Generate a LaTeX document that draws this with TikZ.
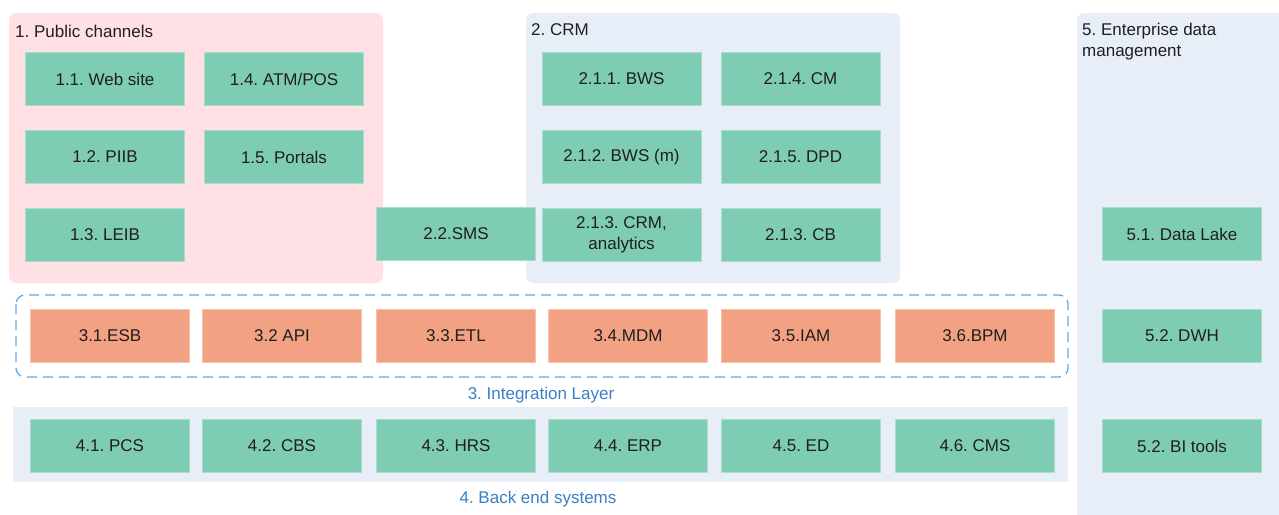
\documentclass[tikz,border=0pt]{standalone}
\usepackage{fontspec}
\setmainfont{Liberation Sans}
\frenchspacing
\usetikzlibrary{positioning}
\definecolor{sysgreen}{HTML}{7FCCB5}
\definecolor{sysedge}{HTML}{A9DDCC}
\definecolor{intorange}{HTML}{F2A283}
\definecolor{intedge}{HTML}{F7C2AC}
\definecolor{panelblue}{HTML}{E8EEF8}
\definecolor{panelpink}{HTML}{FEE0E5}
\definecolor{dashblue}{HTML}{5DA8E3}
\definecolor{capblue}{HTML}{3A7FC4}
\definecolor{inkdark}{HTML}{1F1F1F}
\tikzset{
  sysbox/.style={draw=sysedge, fill=sysgreen, minimum width=159pt, minimum height=53pt,
    inner sep=2pt, line width=0.8pt, font=\fontsize{17}{20.5}\selectfont,
    text=inkdark, align=center},
  intbox/.style={sysbox, draw=intedge, fill=intorange},
  % the group panels
  panel/.style={fill=panelblue, rounded corners=7pt},
  panelhead/.style={anchor=west, inner sep=0pt, font=\fontsize{17}{20.5}\selectfont,
    text=inkdark, align=left},
  layerhead/.style={inner sep=0pt, font=\fontsize{17}{20.5}\selectfont, text=capblue},
  layerframe/.style={draw=dashblue, line width=1.3pt, dash pattern=on 10pt off 6pt,
    rounded corners=9pt},
}

\begin{document}
\begin{tikzpicture}[x=1pt,y=-1pt]
  \useasboundingbox (0,0) rectangle (1279,514);
  \clip (0,0) rectangle (1279,514);
  % panels
  \fill[panel, fill=panelpink] (9,13) rectangle (383,283);
  \fill[panel] (526,13) rectangle (900,283);
  \fill[panel] (1077,13) rectangle (1300,540);
  \fill[panelblue] (13,407) rectangle (1068,482);
  \draw[layerframe] (16,295) rectangle (1068,377);
  \node[panelhead] (pubhead) at (15,31) {1. Public channels};
  \node[panelhead] (crmhead) at (531,30) {2. CRM};
  \node[panelhead] (edmhead) at (1082,41.5) {5. Enterprise data\\management};
  \node[layerhead] (inthead) at (541,395) {3. Integration Layer};
  \node[layerhead] (backhead) at (538,499) {4. Back end systems};
  % public channels
  \foreach \nm/\cx/\cy/\txt in {pc11/105/79/1.1. Web site, pc12/105/157/1.2. PIIB,
      pc13/105/235/1.3. LEIB, pc14/284/79/{1.4. ATM/POS}, pc15/284/157/1.5. Portals}
    \node[sysbox] (\nm) at (\cx,\cy) {\txt};
  \node[sysbox] (sms) at (456,234) {2.2.SMS};
  % crm
  \foreach \nm/\cx/\cy/\txt in {crm211/621.5/79/2.1.1. BWS, crm212/621.5/157/2.1.2. BWS (m),
      crm214/800.5/79/2.1.4. CM, crm215/800.5/157/2.1.5. DPD, crmcb/800.5/235/2.1.3. CB}
    \node[sysbox] (\nm) at (\cx,\cy) {\txt};
  \node[sysbox] (crm213) at (621.5,235) {2.1.3. CRM,\\analytics};
  % integration layer and back end
  \foreach \i/\cx/\ta/\tb in {1/110/3.1.ESB/4.1. PCS, 2/282/3.2 API/4.2. CBS,
      3/456/3.3.ETL/4.3. HRS, 4/628/3.4.MDM/4.4. ERP, 5/801/3.5.IAM/4.5. ED,
      6/975/3.6.BPM/4.6. CMS} {
    \node[intbox] (int\i) at (\cx,336) {\ta};
    \node[sysbox] (back\i) at (\cx,446) {\tb};
  }
  % enterprise data management
  \node[sysbox] (lake) at (1182,234) {5.1. Data Lake};
  \node[sysbox] (dwh) at (1182,336) {5.2. DWH};
  \node[sysbox] (bitools) at (1182,446) {5.2. BI tools};
\end{tikzpicture}
\end{document}
